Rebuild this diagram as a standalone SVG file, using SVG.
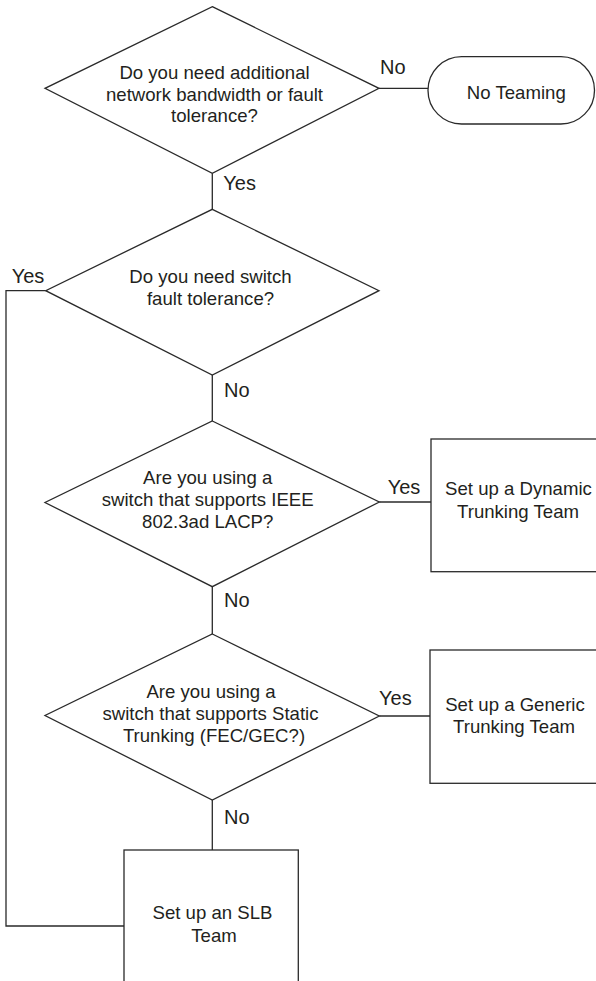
<svg xmlns="http://www.w3.org/2000/svg" width="596" height="981" viewBox="0 0 596 981">
<style>
.shape{fill:#fff;stroke:#2a2a2a;stroke-width:1.3}
.conn{fill:none;stroke:#2a2a2a;stroke-width:1.3}
.t{font-family:"Liberation Sans",Arial,sans-serif;font-size:18.6px;fill:#231f20;text-anchor:middle}
.lbl{font-family:"Liberation Sans",Arial,sans-serif;font-size:20px;fill:#231f20}
</style>
<rect width="596" height="981" fill="#fff"/>
<g id="connectors">
<path class="conn" d="M379,88.3 H428"/>
<path class="conn" d="M212.3,173.3 V209.3"/>
<path class="conn" d="M45.7,290.7 H6 V926 H124"/>
<path class="conn" d="M212.3,375 V421"/>
<path class="conn" d="M379.3,502 H431"/>
<path class="conn" d="M212.3,586.7 V634"/>
<path class="conn" d="M379.3,716 H430"/>
<path class="conn" d="M212.3,800 V850"/>
<text class="lbl" x="380" y="74">No</text>
<text class="lbl" x="223.3" y="190">Yes</text>
<text class="lbl" x="11.7" y="283.3">Yes</text>
<text class="lbl" x="224" y="396.7">No</text>
<text class="lbl" x="387.7" y="494">Yes</text>
<text class="lbl" x="224" y="606.7">No</text>
<text class="lbl" x="379" y="705">Yes</text>
<text class="lbl" x="224" y="824">No</text>
</g>
<g id="q1">
<polygon class="shape" points="212.3,6.7 379,88.3 212.3,173.3 45,88.3"/>
<text class="t" x="214.5" y="79">Do you need additional</text>
<text class="t" x="214.5" y="101">network bandwidth or fault</text>
<text class="t" x="214.5" y="122.3">tolerance?</text>
</g>
<g id="noteaming">
<rect class="shape" x="428" y="56.7" width="166.5" height="67.3" rx="33.6" ry="33.6"/>
<text class="t" x="516.3" y="98.7">No Teaming</text>
</g>
<g id="q2">
<polygon class="shape" points="212.3,209.3 379,290.7 212.3,375 45.7,290.7"/>
<text class="t" x="210.5" y="283.3">Do you need switch</text>
<text class="t" x="210.5" y="305">fault tolerance?</text>
</g>
<g id="q3">
<polygon class="shape" points="212.3,421 379.3,502 212.3,586.7 45,502.5"/>
<text class="t" x="207.7" y="483.5">Are you using a</text>
<text class="t" x="207.7" y="506">switch that supports IEEE</text>
<text class="t" x="207.7" y="527.7">802.3ad LACP?</text>
</g>
<g id="dynamic">
<rect class="shape" x="431" y="439" width="180" height="132.7"/>
<text class="t" x="518.5" y="495">Set up a Dynamic</text>
<text class="t" x="518" y="517.7">Trunking Team</text>
</g>
<g id="q4">
<polygon class="shape" points="212.3,634 379.3,716 212.3,800 45,715.5"/>
<text class="t" x="211" y="698.3">Are you using a</text>
<text class="t" x="210.5" y="720">switch that supports Static</text>
<text class="t" x="214" y="741.7">Trunking (FEC/GEC?)</text>
</g>
<g id="generic">
<rect class="shape" x="430" y="650" width="180" height="133.3"/>
<text class="t" x="515" y="710.7">Set up a Generic</text>
<text class="t" x="514" y="733.3">Trunking Team</text>
</g>
<g id="slb">
<rect class="shape" x="124" y="850" width="174.3" height="150"/>
<text class="t" x="212.5" y="919.3">Set up an SLB</text>
<text class="t" x="214" y="941.7">Team</text>
</g>
</svg>
